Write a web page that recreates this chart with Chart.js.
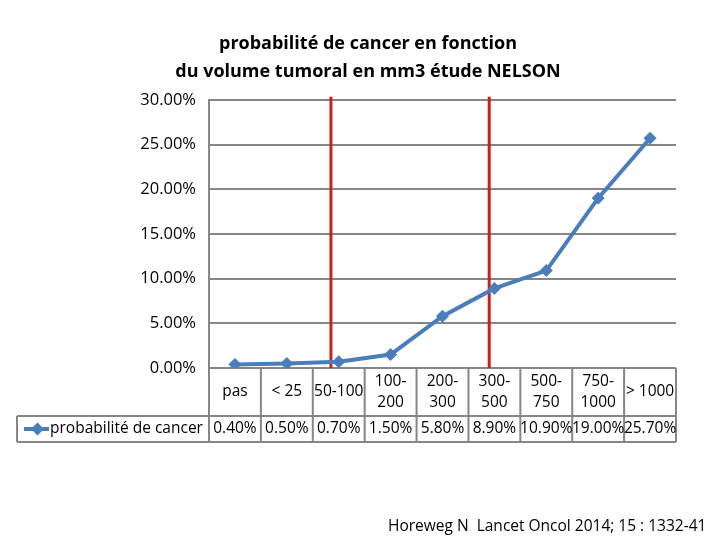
<!DOCTYPE html>
<html>
<head>
<meta charset="utf-8">
<script src="https://cdn.jsdelivr.net/npm/chart.js@4.4.1/dist/chart.umd.min.js"></script>
<style>
  html, body { margin: 0; padding: 0; background: #fff; }
  #wrap { position: relative; width: 720px; height: 540px; }
  #note {
    position: absolute; left: 388px; top: 514px;
    font: 15.5px "Open Sans", sans-serif; color: #000; white-space: pre;
  }
</style>
</head>
<body>
<div id="wrap">
  <canvas id="chart" width="720" height="540"></canvas>
  <div id="note">Horeweg N  Lancet Oncol 2014; 15 : 1332-41</div>
</div>
<script>
/* ---------- data ---------- */
const categories = ["pas", "< 25", "50-100", ["100-", "200"], ["200-", "300"],
  ["300-", "500"], ["500-", "750"], ["750-", "1000"], "> 1000"];
const probabilities = [0.004, 0.005, 0.007, 0.015, 0.058, 0.089, 0.109, 0.19, 0.257];
const seriesName = "probabilité de cancer";
const yTicks = [0, 0.05, 0.1, 0.15, 0.2, 0.25, 0.3];
// red separators, in category units
const redLineAt = [1.85, 4.9];

/* ---------- styles ---------- */
const BLUE = "#4a7ebb";
const GRID = "#868686";
const RED = "#cc1f1f";
const FONT = '"Open Sans", sans-serif';

function pct(v) {
  return (v * 100).toFixed(2) + "%";
}

/* red vertical lines behind the series */
const redLines = {
  id: "redLines",
  beforeDatasetsDraw(chart) {
    const { ctx, chartArea, scales: { x } } = chart;
    ctx.save();
    ctx.strokeStyle = RED;
    ctx.lineWidth = 3;
    redLineAt.forEach((v) => {
      const px = x.getPixelForValue(v);
      ctx.beginPath();
      ctx.moveTo(px, chartArea.top - 3);
      ctx.lineTo(px, chartArea.bottom);
      ctx.stroke();
    });
    ctx.restore();
  },
};

/* Excel-like data table under the plot */
const dataTable = {
  id: "dataTable",
  afterDraw(chart) {
    const { ctx, chartArea, scales: { x } } = chart;
    const top = chartArea.bottom;
    const mid = top + 48;
    const bottom = mid + 26;
    const legendLeft = 17;

    ctx.save();
    ctx.strokeStyle = GRID;
    ctx.lineWidth = 2;
    ctx.beginPath();
    ctx.moveTo(legendLeft, mid);
    ctx.lineTo(chartArea.right, mid);
    ctx.moveTo(legendLeft, bottom);
    ctx.lineTo(chartArea.right, bottom);
    ctx.moveTo(legendLeft, mid);
    ctx.lineTo(legendLeft, bottom);
    for (let i = 0; i <= categories.length; i++) {
      const px = x.getPixelForValue(i - 0.5);
      ctx.moveTo(px, top);
      ctx.lineTo(px, bottom);
    }
    ctx.stroke();

    ctx.fillStyle = "#000";
    ctx.font = "15.5px " + FONT;
    ctx.textAlign = "center";
    ctx.textBaseline = "middle";
    categories.forEach((c, i) => {
      const px = x.getPixelForValue(i);
      const lines = Array.isArray(c) ? c : [c];
      lines.forEach((t, k) => {
        ctx.fillText(t, px, (top + mid) / 2 + (k - (lines.length - 1) / 2) * 21);
      });
      ctx.fillText(pct(probabilities[i]), px, (mid + bottom) / 2);
    });

    // legend key
    const ky = (mid + bottom) / 2;
    ctx.strokeStyle = BLUE;
    ctx.lineWidth = 4;
    ctx.beginPath();
    ctx.moveTo(24, ky);
    ctx.lineTo(49, ky);
    ctx.stroke();
    ctx.fillStyle = BLUE;
    ctx.beginPath();
    ctx.moveTo(31, ky);
    ctx.lineTo(37.5, ky - 6.5);
    ctx.lineTo(44, ky);
    ctx.lineTo(37.5, ky + 6.5);
    ctx.closePath();
    ctx.fill();

    ctx.fillStyle = "#000";
    ctx.textAlign = "left";
    ctx.fillText(seriesName, 50, ky);
    ctx.restore();
  },
};

new Chart(document.getElementById("chart"), {
  type: "line",
  data: {
    labels: categories,
    datasets: [
      {
        label: seriesName,
        data: probabilities,
        borderColor: BLUE,
        backgroundColor: BLUE,
        borderWidth: 4,
        tension: 0,
        pointStyle: "rectRot",
        pointRadius: 6,
        pointBorderWidth: 1,
        pointBackgroundColor: BLUE,
        pointBorderColor: BLUE,
      },
    ],
  },
  options: {
    responsive: false,
    animation: false,
    layout: { padding: { left: 60, right: 44, top: 0, bottom: 172 } },
    plugins: {
      legend: { display: false },
      tooltip: { enabled: false },
      title: {
        display: true,
        text: ["probabilité de cancer en fonction", "du volume tumoral en mm3 étude NELSON"],
        color: "#000",
        font: { family: FONT, size: 18, weight: "bold", lineHeight: 1.55 },
        padding: { top: 30, bottom: 14 },
      },
    },
    scales: {
      x: {
        display: false,
        offset: true,
      },
      y: {
        min: 0,
        max: 0.3,
        afterFit(scale) {
          scale.width = 149;
        },
        afterBuildTicks(scale) {
          scale.ticks = yTicks.map((v) => ({ value: v }));
        },
        ticks: {
          padding: 13,
          color: "#000",
          font: { family: FONT, size: 16.5 },
          callback: (v) => pct(v),
        },
        grid: { color: GRID, lineWidth: 2, drawTicks: false },
        border: { color: GRID, width: 2 },
      },
    },
  },
  plugins: [redLines, dataTable],
});
</script>
</body>
</html>
